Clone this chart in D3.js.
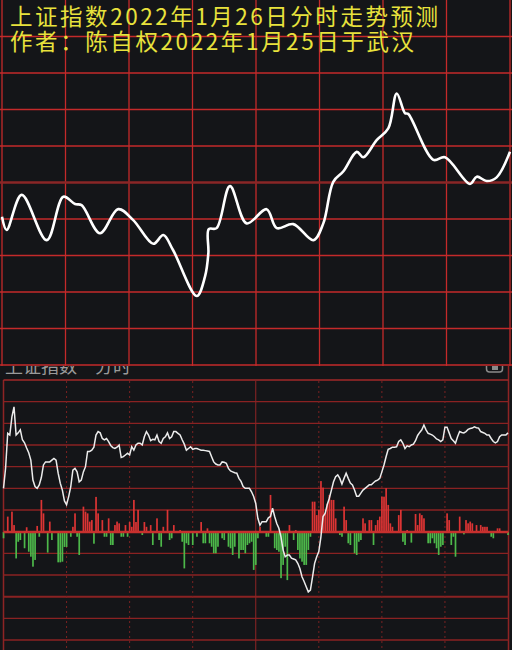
<!DOCTYPE html>
<html><head><meta charset="utf-8">
<script src="https://cdn.jsdelivr.net/npm/d3@7"></script>
<style>html,body{margin:0;padding:0;background:#141518;} svg{display:block;}</style>
</head><body>
<svg id="c" width="512" height="650"></svg>
<script>
// ---------- data ----------
const titleLines = ["上证指数2022年1月26日分时走势预测", "作者：陈自权2022年1月25日于武汉"];
const panelLabels = ["上证指数", "分时"];

// forecast curve (minute of session, index value)
const forecastMinutes = [0, 2.2, 9.3, 21.1, 29.0, 34.5, 37.6, 46.3, 54.9, 62.0, 71.5, 76.2, 80.8, 92.0, 95.9, 97.5, 97.7, 101.4, 107.7, 115.6, 125.0, 129.8, 137.6, 147.1, 151.8, 156.5, 161.2, 167.6, 170.7, 177.0, 182.5, 186.5, 190.4, 191.9, 203.8, 209.3, 221.1, 224.3, 229.0, 233.7, 240];
const forecastValues = [3423.6, 3420.0, 3429.6, 3417.2, 3429.1, 3427.1, 3426.8, 3419.1, 3425.7, 3422.7, 3416.2, 3418.6, 3414.5, 3401.9, 3407.2, 3413.7, 3420.2, 3420.5, 3432.0, 3421.8, 3425.7, 3420.5, 3421.6, 3417.2, 3421.8, 3433.2, 3436.0, 3441.4, 3439.9, 3444.6, 3447.8, 3457.4, 3452.0, 3451.8, 3439.2, 3439.9, 3432.6, 3434.6, 3433.4, 3434.4, 3441.4];

// actual intraday line, one value per minute 0..240
const actualValues = [
3445.0,3449.7,3457.7,3457.3,3461.5,3463.8,3457.3,3457.8,3458.5,3456.2,
3455.5,3454.3,3453.2,3451.5,3446.9,3445.4,3445.0,3445.8,3447.5,3450.4,
3451.1,3451.1,3451.1,3451.5,3451.9,3451.5,3448.5,3446.2,3444.6,3442.1,
3441.2,3443.1,3445.4,3449.2,3449.6,3448.8,3446.5,3446.9,3448.8,3450.0,
3453.5,3453.5,3453.8,3454.5,3457.3,3458.1,3457.8,3456.5,3456.2,3456.5,
3455.8,3454.9,3454.4,3454.2,3454.5,3455.0,3452.1,3452.3,3452.7,3453.1,
3452.7,3454.6,3453.8,3455.0,3455.4,3455.4,3455.0,3456.9,3458.1,3457.3,
3456.0,3456.3,3456.2,3457.3,3455.8,3455.4,3456.5,3456.9,3457.8,3456.5,
3456.9,3458.1,3458.1,3457.7,3457.3,3456.2,3455.2,3453.8,3454.2,3454.6,
3454.0,3454.2,3454.2,3454.0,3453.8,3453.8,3453.7,3453.6,3453.5,3452.3,
3451.1,3450.6,3450.4,3450.4,3451.1,3451.0,3450.8,3449.6,3449.0,3448.8,
3448.6,3448.5,3447.3,3446.6,3445.4,3445.0,3445.0,3445.0,3444.2,3443.1,
3441.5,3438.1,3436.5,3437.3,3437.3,3437.3,3438.2,3438.5,3440.4,3438.5,
3436.9,3435.8,3433.8,3430.8,3429.2,3429.6,3429.6,3428.9,3428.7,3428.5,
3427.7,3426.5,3424.6,3423.5,3422.3,3421.1,3421.5,3424.5,3427.7,3429.2,
3430.4,3433.8,3438.5,3439.2,3441.2,3442.7,3444.6,3446.5,3447.7,3448.1,
3447.3,3446.0,3447.3,3448.5,3447.3,3446.2,3445.8,3444.6,3443.2,3443.2,
3443.9,3444.6,3445.0,3445.4,3445.8,3445.8,3446.3,3446.7,3446.9,3447.3,
3448.8,3450.4,3452.3,3454.0,3454.2,3454.5,3454.5,3454.6,3455.8,3456.2,
3455.4,3454.2,3454.8,3454.6,3455.0,3455.2,3456.0,3457.2,3457.9,3458.5,
3459.6,3458.5,3457.7,3457.5,3457.3,3456.9,3456.4,3456.2,3455.8,3456.2,
3459.1,3459.1,3457.8,3456.5,3456.0,3455.4,3456.9,3458.1,3457.9,3457.8,
3458.1,3458.6,3458.8,3458.9,3459.2,3459.0,3458.9,3458.1,3457.9,3457.7,
3457.3,3457.3,3456.5,3455.8,3455.5,3455.8,3456.9,3457.3,3457.3,3457.3,
3457.8];

// buy/sell difference bars (minute, signed value)
const volumeMinutes = [0,2,4,5,6,7,8,10,11,12,13,14,15,16,17,18,19,21,22,23,26,27,28,29,30,32,33,34,35,36,38,39,40,41,42,43,44,45,47,48,49,50,51,52,53,54,55,56,57,58,59,60,61,62,63,64,66,67,68,70,71,73,74,75,76,78,79,80,81,84,85,86,87,88,90,92,94,95,96,97,98,99,100,101,102,104,105,107,108,109,110,112,113,114,115,116,117,118,119,120,121,122,125,126,127,129,130,131,132,133,134,135,136,138,139,140,141,142,143,144,145,146,147,148,149,150,151,152,153,154,155,156,157,158,160,161,162,163,164,165,167,168,169,170,171,172,174,175,176,177,178,179,180,181,182,183,184,185,188,189,190,191,192,194,196,197,198,199,200,202,203,204,205,206,207,208,209,211,212,213,214,215,217,219,220,221,222,223,225,227,228,229,230,232,233,235,236,240];
const volumeValues = [-2.9,7.1,9.4,3.2,-12.2,-4.5,-3.7,-7.5,2.2,-9.1,-11.4,-16.0,-12.9,2.8,-2.2,14.8,8.6,-9.5,4.8,-3.7,-14.0,-14.0,-13.7,-6.9,-6.9,-2.2,2.4,8.6,-2.2,-10.6,11.7,9.4,8.6,4.8,5.5,-5.4,16.2,8.6,5.5,-2.2,-2.2,6.3,-6.0,-6.0,3.2,4.8,4.0,-2.2,-2.2,3.2,-2.2,4.6,2.4,14.8,4.6,10.2,-1.4,4.6,2.4,3.2,-6.0,6.3,-3.7,-6.8,2.4,10.2,-3.7,-2.9,3.2,0.9,-4.5,-16.8,-5.2,-6.0,-6.0,-2.2,4.6,-5.2,-5.2,1.7,-5.2,-6.8,-9.8,-9.8,-6.8,-2.9,-3.7,-6.8,-7.5,-10.6,-6.8,-12.2,-8.3,-8.3,-9.8,-6.0,-5.2,-4.5,-17.5,-15.2,-2.9,2.4,-2.2,-2.2,17.1,-7.5,-8.3,-9.1,-21.3,-15.2,-6.8,-22.2,3.2,-3.7,0.9,-8.3,-12.2,-13.7,-15.2,-15.2,-8.3,-2.2,14.0,14.0,7.8,10.2,23.5,20.5,8.6,13.1,17.1,14.8,14.8,6.3,-1.4,-2.2,11.7,5.5,-5.2,-6.0,-9.8,-10.6,-4.5,-3.7,6.3,4.0,5.5,5.5,-6.0,3.2,5.5,7.1,16.3,16.3,20.2,12.5,4.0,2.4,7.8,10.2,-4.5,-6.0,0.9,-4.9,8.3,3.2,8.6,7.8,6.3,-5.2,-5.2,-2.9,-5.2,-7.5,-10.6,-6.8,-6.0,8.6,5.5,-6.0,-2.2,-11.4,7.1,-1.1,5.5,4.0,4.8,4.0,3.2,3.2,2.4,2.4,2.4,-2.2,-2.9,1.7,1.7,-1.4];

const timeGrid = [30, 60, 90, 120, 150, 180, 210];
const topLevels = [3383, 3393, 3403, 3413, 3423, 3433, 3443, 3453, 3463, 3473];
const bottomLevels = [3470, 3465, 3460, 3455, 3450, 3445, 3440, 3435, 3430, 3425, 3420, 3415, 3410];

// ---------- drawing ----------
const svg = d3.select("#c");
const BG = "#141518";
svg.append("rect").attr("width", 512).attr("height", 650).attr("fill", BG);

// ---- bottom panel (actual) ----
const xB = d3.scaleLinear().domain([0, 240]).range([3.5, 508]);
const yP = d3.scaleLinear().domain([3410, 3470]).range([640, 380]);
const yV = d3.scaleLinear().domain([0, 10]).range([532, 510.33]);

const botG = svg.append("g");
botG.append("text").attr("x", 5).attr("y", 373).text(panelLabels[0])
  .attr("font-family", "Noto Sans CJK SC").attr("font-size", 18).attr("fill", "#9a9a9a");
botG.append("text").attr("x", 95).attr("y", 373).text(panelLabels[1])
  .attr("font-family", "Noto Sans CJK SC").attr("font-size", 18).attr("fill", "#9a9a9a");
botG.append("rect").attr("x", 486.5).attr("y", 358).attr("width", 16).attr("height", 14).attr("rx", 3)
  .attr("fill", "none").attr("stroke", "#8a8a8a").attr("stroke-width", 1.5);
botG.append("rect").attr("x", 492).attr("y", 362).attr("width", 6).attr("height", 8).attr("fill", "#8a8a8a");

botG.append("line").attr("x1", 3.5).attr("x2", 3.5).attr("y1", 380).attr("y2", 650).attr("stroke", "#8e2424").attr("stroke-width", 1.5);
botG.append("line").attr("x1", 508.5).attr("x2", 508.5).attr("y1", 366).attr("y2", 650).attr("stroke", "#8e2424").attr("stroke-width", 1.5);

botG.selectAll("line.hg").data(bottomLevels).enter().append("line")
  .attr("x1", 3.5).attr("x2", 508.5)
  .attr("y1", d => yP(d)).attr("y2", d => yP(d))
  .attr("stroke", (d, i) => i === 0 ? "#a02828" : "#8a2222")
  .attr("stroke-width", (d, i) => (i === 10 ? 2 : 1.3));

botG.selectAll("line.vg").data(timeGrid).enter().append("line")
  .attr("x1", d => xB(d)).attr("x2", d => xB(d)).attr("y1", 381).attr("y2", 650)
  .attr("stroke", d => d === 120 ? "#8e2424" : "#7a2222")
  .attr("stroke-width", 1)
  .attr("stroke-dasharray", d => d === 120 ? null : "2,3");

const bars = volumeMinutes.map((m, i) => ({ m, v: volumeValues[i] }));
botG.selectAll("rect.bar").data(bars).enter().append("rect")
  .attr("x", d => xB(d.m) - 0.8).attr("width", 1.7)
  .attr("y", d => Math.min(yV(d.v), yV(0)))
  .attr("height", d => Math.abs(yV(d.v) - yV(0)))
  .attr("fill", d => d.v >= 0 ? "#dc3434" : "#4db84a");

botG.append("line").attr("x1", 3.5).attr("x2", 508.5).attr("y1", yV(0)).attr("y2", yV(0))
  .attr("stroke", "#c8302e").attr("stroke-width", 2.5);

const actLine = d3.line().x((d, i) => xB(i)).y(d => yP(d));
botG.append("path").attr("d", actLine(actualValues)).attr("fill", "none")
  .attr("stroke", "#ececec").attr("stroke-width", 1.5).attr("stroke-linejoin", "miter");

// ---- top panel (forecast) ----
const xT = d3.scaleLinear().domain([0, 240]).range([2, 510]);
const yT = d3.scaleLinear().domain([3383, 3483]).range([365, 0]);
const topG = svg.append("g");
topG.append("rect").attr("x", 0).attr("y", 0).attr("width", 512).attr("height", 366).attr("fill", BG);

topG.selectAll("line.hv").data([0].concat(timeGrid, [240])).enter().append("line")
  .attr("x1", d => xT(d)).attr("x2", d => xT(d)).attr("y1", 0).attr("y2", 366)
  .attr("stroke", "#c42a2a").attr("stroke-width", 1.3);
topG.selectAll("line.hh").data(topLevels).enter().append("line")
  .attr("x1", 0).attr("x2", 512).attr("y1", d => yT(d)).attr("y2", d => yT(d))
  .attr("stroke", d => d === 3433 ? "#8a2626" : "#c42a2a")
  .attr("stroke-width", d => d === 3433 ? 2.5 : 1.3);

const fData = forecastMinutes.map((m, i) => [m, forecastValues[i]]);
const fLine = d3.line().x(d => xT(d[0])).y(d => yT(d[1])).curve(d3.curveCatmullRom.alpha(0.5));
topG.append("path").attr("d", fLine(fData)).attr("fill", "none")
  .attr("stroke", "#ffffff").attr("stroke-width", 2.6).attr("stroke-linejoin", "round");

topG.selectAll("text.t").data(titleLines).enter().append("text")
  .attr("x", 10).attr("y", (d, i) => 25 + i * 24.5)
  .attr("textLength", (d, i) => i === 0 ? 428 : 404)
  .attr("lengthAdjust", "spacing")
  .attr("font-family", "Noto Sans CJK SC").attr("font-size", 22.5)
  .attr("fill", "#e8e23c")
  .text(d => d);
</script>
</body></html>
